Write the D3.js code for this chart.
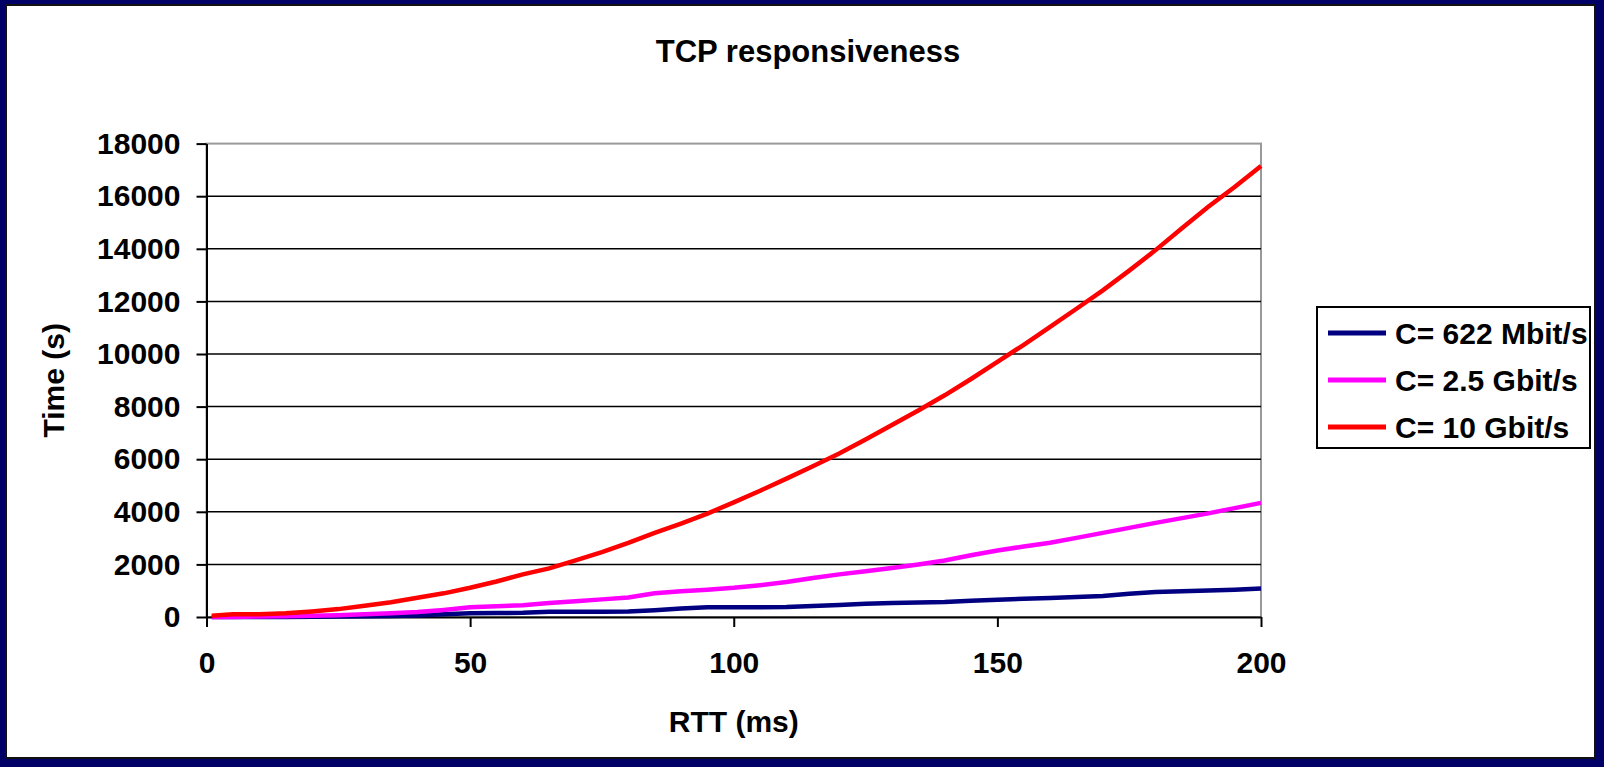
<!DOCTYPE html>
<html>
<head>
<meta charset="utf-8">
<script src="https://cdn.jsdelivr.net/npm/d3@7"></script>
<style>
	body { margin:0; background:#000066; }
	text { font-family:"Liberation Sans", Arial, sans-serif; font-weight:bold; fill:#000; }
	.axis path, .axis line { stroke:#000; stroke-width:2px; }
	.grid line { stroke:#000; stroke-width:1.5px; }
</style>
</head>
<body>
<div id="chart-area"></div>
<script>
// data
var rtt = [1,5,10,15,20,25,30,35,40,45,50,55,60,65,70,75,80,85,90,95,100,
	105,110,115,120,125,130,135,140,145,150,155,160,165,170,175,180,185,190,195,200];
var c622 = [0,0,0,0,10,20,30,40,60,100,140,150,160,200,200,200,210,260,320,370,370,
	370,380,420,460,500,530,550,570,620,660,690,720,760,800,880,950,980,1010,1040,1080];
var c2500 = [0,0,20,30,50,70,100,140,190,270,370,410,450,530,600,670,740,900,980,1040,1110,
	1210,1330,1480,1620,1740,1860,2000,2150,2350,2530,2680,2820,3010,3200,3390,3580,3760,3940,4140,4340];
var c10000 = [50,100,100,140,210,300,430,560,730,900,1110,1350,1620,1850,2150,2470,2820,3200,3550,3930,4360,
	4800,5260,5730,6220,6750,7300,7850,8430,9050,9700,10350,11030,11720,12420,13170,13950,14780,15600,16350,17150];
var seriesNames = ["C= 622 Mbit/s", "C= 2.5 Gbit/s", "C= 10 Gbit/s"];
var seriesColors = ["#000080", "#ff00ff", "#ff0000"];
var xTicks = [0,50,100,150,200];
var yTicks = [0,2000,4000,6000,8000,10000,12000,14000,16000,18000];

var W = 1604, H = 767;
var margin = {left:206.5, top:143.6, right:343, bottom:150},
	width = W - margin.left - margin.right,  //plot width
	height = H - margin.top - margin.bottom; //plot height

var svg = d3.select("#chart-area")
	.append("svg")
		.attr("width", W)
		.attr("height", H);

//navy frame with white sheet
svg.append("rect")
	.attr("width", W).attr("height", H)
	.attr("fill", "#000066");
svg.append("rect")
	.attr("x", 6).attr("y", 5)
	.attr("width", 1589).attr("height", 753)
	.attr("fill", "#fff")
	.attr("stroke", "#111")
	.attr("stroke-width", 2);

//title
svg.append("text")
	.attr("x", 808).attr("y", 62)
	.attr("text-anchor", "middle")
	.style("font-size", "31px")
	.text("TCP responsiveness");

var g = svg.append("g")
	.attr("transform", "translate(" + margin.left + ", " + margin.top + ")");

//scales
var x = d3.scaleLinear().domain([0,200]).range([0,width]);
var y = d3.scaleLinear().domain([0,18000]).range([height,0]);

//plot border (grey, right + top)
g.append("rect")
	.attr("width", width).attr("height", height)
	.attr("fill", "none")
	.attr("stroke", "#999")
	.attr("stroke-width", 2);

//gridlines
g.append("g")
	.attr("class", "grid")
	.selectAll("line")
	.data(yTicks.slice(1, -1))
	.enter().append("line")
		.attr("x1", 0).attr("x2", width)
		.attr("y1", d=>{return y(d);})
		.attr("y2", d=>{return y(d);});

//axes
var xAxisCall = d3.axisBottom(x)
	.tickValues(xTicks)
	.tickSize(10)
	.tickPadding(25)
	.tickSizeOuter(0);
var yAxisCall = d3.axisLeft(y)
	.tickValues(yTicks)
	.tickFormat(d3.format("d"))
	.tickSize(10)
	.tickPadding(16)
	.tickSizeOuter(0);

var xAxis = g.append("g")
	.attr("class", "x axis")
	.attr("transform", "translate(0," + height + ")")
	.call(xAxisCall);
var yAxis = g.append("g")
	.attr("class", "y axis")
	.call(yAxisCall);
g.selectAll(".axis text").style("font-size", "30px");

//axis titles
g.append("text")
	.attr("x", width / 2)
	.attr("y", height + 115)
	.attr("text-anchor", "middle")
	.style("font-size", "30px")
	.text("RTT (ms)");
g.append("text")
	.attr("transform", "rotate(-90)")
	.attr("x", -height / 2)
	.attr("y", -143)
	.attr("text-anchor", "middle")
	.style("font-size", "30px")
	.text("Time (s)");

//lines
var series = [c622, c2500, c10000];
var line = d3.line()
	.x((d,i)=>{return x(rtt[i]);})
	.y(d=>{return y(d);});

series.forEach((s,k)=>{
	g.append("path")
		.attr("fill", "none")
		.attr("stroke", seriesColors[k])
		.attr("stroke-width", 4.5)
		.attr("d", line(s));
});

//legend
var legend = svg.append("g")
	.attr("transform", "translate(1317, 307)");
legend.append("rect")
	.attr("width", 273).attr("height", 141)
	.attr("fill", "#fff")
	.attr("stroke", "#000")
	.attr("stroke-width", 2);
seriesNames.forEach((name,k)=>{
	var row = legend.append("g")
		.attr("transform", "translate(0," + (26 + k * 47) + ")");
	row.append("line")
		.attr("x1", 11).attr("x2", 69)
		.attr("stroke", seriesColors[k])
		.attr("stroke-width", 5);
	row.append("text")
		.attr("x", 78).attr("y", 11)
		.style("font-size", "30px")
		.text(name);
});
</script>
</body>
</html>
